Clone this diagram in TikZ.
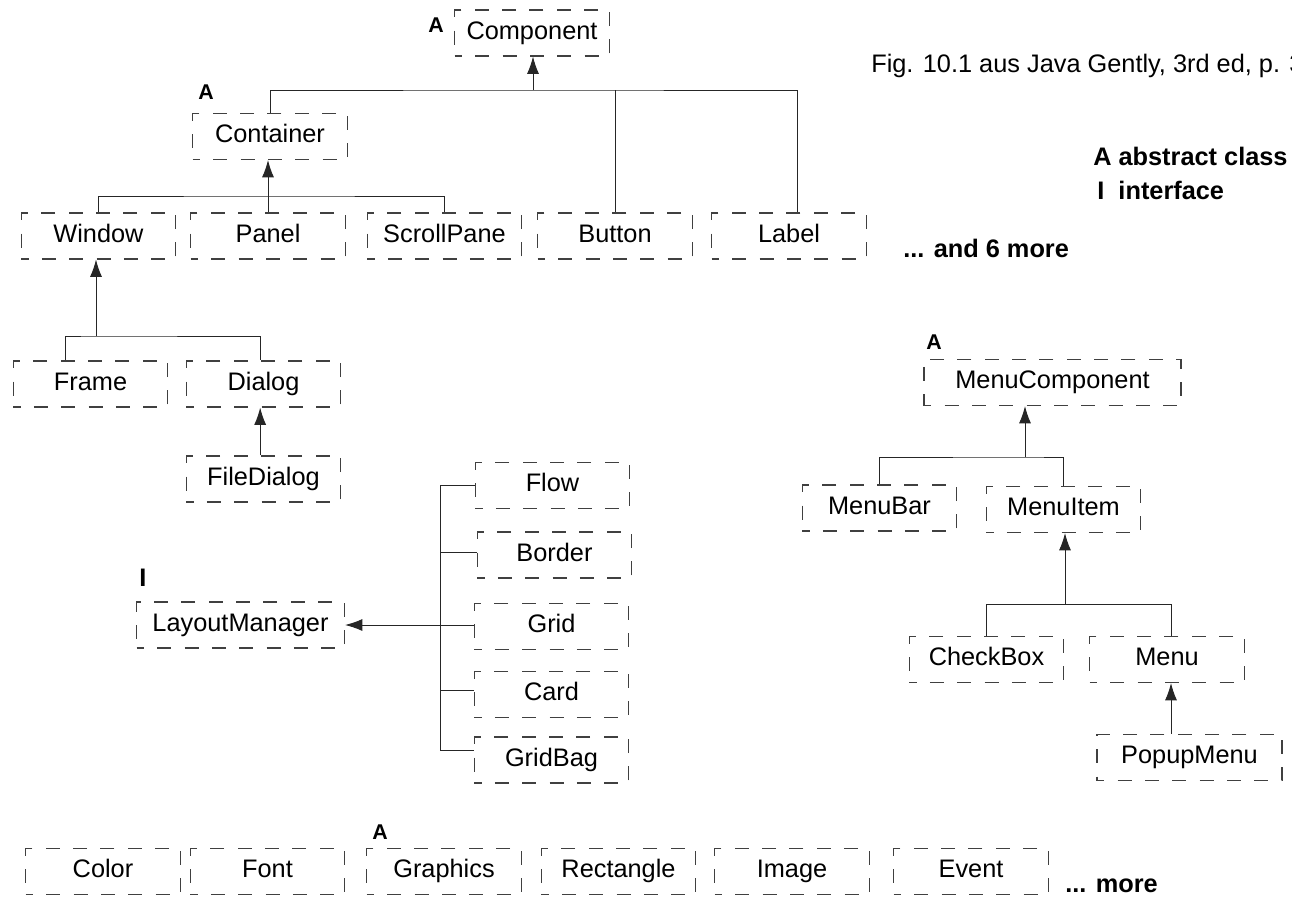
\documentclass[tikz,border=0pt]{standalone}
\usepackage{fontspec}
\setmainfont{Liberation Sans}
\usetikzlibrary{arrows.meta}

\newcommand\clsfont{\fontsize{19}{22}\selectfont}
\newcommand\tagfont{\fontsize{16}{18}\selectfont\bfseries}

\begin{document}
\begin{tikzpicture}[x=0.75pt,y=0.75pt,yscale=-1,xscale=1,
	cls/.style={draw=black!75, line width=0.8pt, dash pattern=on 10.5pt off 10pt, dash phase=5pt,
		minimum width=116pt, minimum height=34.5pt, inner sep=0pt,
		text height=13.6pt, text depth=4pt, font=\clsfont},
	tag/.style={inner sep=0pt, font=\tagfont},
	note/.style={anchor=base west, inner sep=0pt, font=\clsfont},
	conn/.style={draw=black!85, line width=0.7pt},
	inh/.style={conn, -{Latex[length=13pt,width=9pt]}}]
	\useasboundingbox (0,0) rectangle (1292,897);
	
	%Shape: Class boxes, Component tree
	\node[cls] (component) at (532,33) {Component};
	\node[cls] (container) at (270,136.5) {Container};
	\node[cls] (window) at (98.5,236) {Window};
	\node[cls] (panel) at (268,236) {Panel};
	\node[cls] (scrollpane) at (444.5,236) {ScrollPane};
	\node[cls] (button) at (615,236) {Button};
	\node[cls] (label) at (789,236) {Label};
	\node[cls] (frame) at (90.5,384) {Frame};
	\node[cls] (dialog) at (263.5,384) {Dialog};
	\node[cls] (filedialog) at (263.5,479) {FileDialog};
	
	%Shape: Class boxes, layout managers
	\node[cls, minimum width=156pt] (layout) at (240.5,625) {LayoutManager};
	\node[cls] (flow) at (552.5,485.5) {Flow};
	\node[cls] (border) at (554.5,555) {Border};
	\node[cls] (grid) at (551.5,626.5) {Grid};
	\node[cls] (card) at (551.5,694.5) {Card};
	\node[cls] (gridbag) at (551.5,760) {GridBag};
	
	%Shape: Class boxes, menu tree
	\node[cls, minimum width=192.75pt] (menucomp) at (1052.5,382.5) {MenuComponent};
	\node[cls] (menubar) at (879.5,508) {MenuBar};
	\node[cls] (menuitem) at (1063.5,509.5) {MenuItem};
	\node[cls] (checkbox) at (986.5,659.5) {CheckBox};
	\node[cls] (menu) at (1167,659.5) {Menu};
	\node[cls, minimum width=138.75pt] (popup) at (1189.5,757.5) {PopupMenu};
	
	%Shape: Class boxes, bottom row
	\node[cls] (color) at (103,871.5) {Color};
	\node[cls] (font) at (267.5,871.5) {Font};
	\node[cls] (graphics) at (444,871.5) {Graphics};
	\node[cls] (rectangle) at (618.5,871.5) {Rectangle};
	\node[cls] (image) at (792,871.5) {Image};
	\node[cls] (event) at (971,871.5) {Event};
	
	% Text Node
	\node[tag] (acomp) at (436,25) {A};
	\node[tag] (acont) at (206,92) {A};
	\node[tag] (amenu) at (934,342) {A};
	\node[tag] (agraph) at (380,832) {A};
	\node[tag, font=\clsfont\bfseries] (ilayout) at (143,578) {I};
	
	% Text Node
	\node[note] (caption) at (871,72) {Fig. 10.1 aus Java Gently, 3rd ed, p. 3};
	\node[note, font=\clsfont\bfseries] (legenda) at (1093,165) {A abstract class};
	\node[note, font=\clsfont\bfseries] (legendi) at (1097,199) {I\hskip0.56em interface};
	\node[note, font=\clsfont\bfseries] (moreawt) at (903,257) {... and 6 more};
	\node[note, font=\clsfont\bfseries] (morerow) at (1065,892) {... more};
	
	% Component tree
	\coordinate (cbus) at (533,90);
	\draw[inh] (cbus) -- (cbus |- component.south);
	\draw[conn] (container.north) |- (cbus) -| ([xshift=6pt]label.north);
	\draw[conn] (button.north) -- (button.north |- cbus);
	
	\coordinate (kbus) at (267,196);
	\draw[inh] (panel.north) -- (panel.north |- container.south);
	\draw[conn] (window.north) |- (kbus) -| (scrollpane.north);
	
	\coordinate (wbus) at (96,336);
	\draw[inh] (wbus) -- (wbus |- window.south);
	\draw[conn] ([xshift=-19pt]frame.north) |- (wbus) -| ([xshift=-2.5pt]dialog.north);
	\draw[inh] ([xshift=-2.5pt]filedialog.north) -- ([xshift=-2.5pt]dialog.south);
	
	% Layout managers
	\coordinate (lmbus) at (440,0);
	\coordinate (bordin) at ([yshift=-2pt]border.west);
	\coordinate (cardin) at ([yshift=-3pt]card.west);
	\coordinate (gbin) at ([yshift=-7pt]gridbag.west);
	\draw[conn] (flow.west) -- (flow.west -| lmbus) -- (gbin -| lmbus) -- (gbin);
	\draw[conn] (bordin) -- (bordin -| lmbus);
	\draw[conn] (cardin) -- (cardin -| lmbus);
	\draw[inh] (grid.west |- layout) -- (layout.east);
	
	% Menu tree
	\coordinate (mbus) at (1025,457);
	\draw[inh] (mbus) -- (mbus |- menucomp.south);
	\draw[conn] (menubar.north) |- (mbus) -| (menuitem.north);
	
	\coordinate (ibus) at (1065,604);
	\draw[inh] (ibus) -- (ibus |- menuitem.south);
	\draw[conn] (checkbox.north) |- (ibus) -| ([xshift=3pt]menu.north);
	\draw[inh] ([xshift=3pt]menu.south |- popup.north) -- ([xshift=3pt]menu.south);
	
\end{tikzpicture}
\end{document}
